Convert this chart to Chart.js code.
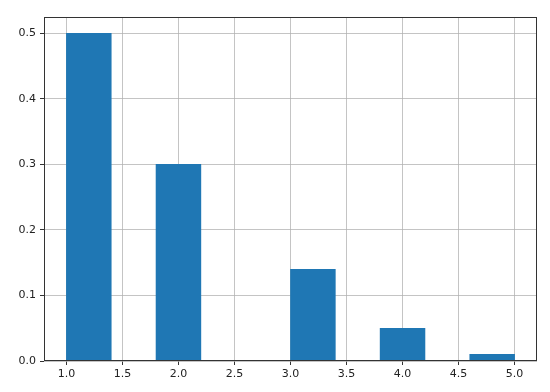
<!DOCTYPE html>
<html>
<head>
<meta charset="utf-8">
<script src="https://cdn.jsdelivr.net/npm/chart.js@4/dist/chart.umd.min.js"></script>
<style>
  body { margin: 0; background: #fff; }
  canvas { display: block; }
</style>
</head>
<body>
<canvas id="hist" width="550" height="392"></canvas>
<script>
// histogram bins (edges) and the normalised height of each bin
let binEdges = [1.0, 1.4, 1.8, 2.2, 2.6, 3.0, 3.4, 3.8, 4.2, 4.6, 5.0];
let binValues = [0.5, 0, 0.3, 0, 0, 0.14, 0, 0.05, 0, 0.01];

let xRange = [0.8, 5.2];
let yRange = [0, 0.525];
let xStep = 0.5;
let yStep = 0.1;

let barColor = '#1f77b4';
let gridColor = 'rgba(176,176,176,0.75)';
let axisColor = '#333';

// bar centres from the edges
let points = [];
for (let i = 0; i < binValues.length; i++) {
    points.push({x: (binEdges[i] + binEdges[i + 1]) / 2, y: binValues[i]});
}

// matplotlib draws a box all round the axes
const frame = {
    id: 'frame',
    afterDraw(chart) {
        let a = chart.chartArea;
        let ctx = chart.ctx;
        ctx.save();
        ctx.strokeStyle = axisColor;
        ctx.lineWidth = 1;
        ctx.strokeRect(Math.round(a.left) + 0.5, Math.round(a.top) + 0.5,
            Math.round(a.right - a.left) - 1, Math.round(a.bottom - a.top) - 1);
        ctx.restore();
    }
};

let ctx = document.getElementById('hist').getContext('2d');
let myChart = new Chart(ctx, {
    type: 'bar',
    data: {
        datasets: [{
            data: points,
            backgroundColor: barColor,
            borderWidth: 0,
            barPercentage: 1,
            categoryPercentage: 1
        }]
    },
    options: {
        responsive: false,
        animation: false,
        layout: { padding: { top: 17, right: 13, left: 0, bottom: 0 } },
        plugins: {
            legend: { display: false },
            tooltip: { enabled: false }
        },
        scales: {
            x: {
                type: 'linear',
                min: xRange[0],
                max: xRange[1],
                offset: false,
                z: 1,
                afterFit: (scale) => { scale.height = 31; },
                grid: { offset: false, color: gridColor, lineWidth: 1, tickLength: 4, tickColor: axisColor },
                border: { display: false },
                ticks: {
                    stepSize: xStep,
                    includeBounds: false,
                    maxRotation: 0,
                    padding: 3,
                    color: '#222',
                    font: { family: 'DejaVu Sans', size: 11 },
                    callback: (v) => v.toFixed(1)
                }
            },
            y: {
                min: yRange[0],
                max: yRange[1],
                z: 1,
                afterFit: (scale) => { scale.width = 44; },
                grid: { color: gridColor, lineWidth: 1, tickLength: 4, tickColor: axisColor },
                border: { display: false },
                ticks: {
                    stepSize: yStep,
                    includeBounds: false,
                    padding: 4,
                    color: '#222',
                    font: { family: 'DejaVu Sans', size: 11 },
                    callback: (v) => v.toFixed(1)
                }
            }
        }
    },
    plugins: [frame]
});
</script>
</body>
</html>
